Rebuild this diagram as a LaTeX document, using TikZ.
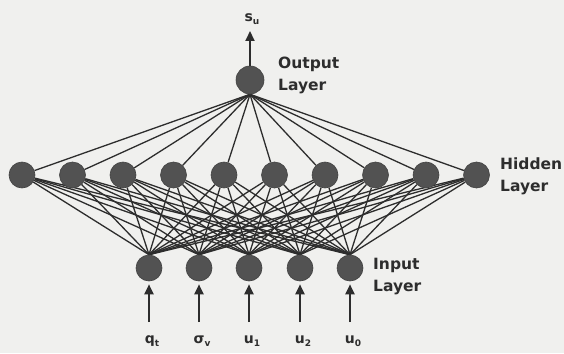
\documentclass[tikz,border=0pt]{standalone}
\usepackage{fontspec}
\setmainfont{DejaVu Sans}
\usetikzlibrary{arrows.meta}
\pgfdeclarelayer{bglayer}
\pgfdeclarelayer{edgelayer}
\pgfsetlayers{bglayer,edgelayer,main}
\definecolor{bgcol}{RGB}{240,240,238}
\definecolor{nodecol}{RGB}{82,82,82}
\definecolor{linecol}{RGB}{45,45,45}
\definecolor{txtcol}{RGB}{45,45,45}
\newcommand{\subl}[1]{{\fontsize{9}{9}\selectfont\raisebox{-3pt}{#1}}}
\begin{document}
\begin{tikzpicture}[x=1pt,y=-1pt,
  neuron/.style={circle,fill=nodecol,draw=nodecol!80!black,line width=0.6pt,minimum size=26pt,inner sep=0pt},
  outneuron/.style={neuron,minimum size=28pt},
  conn/.style={draw=linecol,line width=1.3pt},
  arr/.style={draw=linecol,line width=2pt,-{Triangle[length=10pt,width=9pt]}},
  lbl/.style={text=txtcol,font=\fontsize{15.5}{22}\selectfont\bfseries,align=left,anchor=west,inner sep=0pt},
  inlbl/.style={text=txtcol,font=\fontsize{14}{14}\selectfont\bfseries,inner sep=0pt}
]
\begin{pgfonlayer}{bglayer}
\fill[bgcol] (0,0) rectangle (564,353);
\end{pgfonlayer}
\useasboundingbox (0,0) rectangle (564,353);
% nodes
\node[outneuron] (O) at (250,80) {};
\foreach \k in {1,...,10} {
  \node[neuron] (H\k) at ({22+50.5*(\k-1)},175) {};
}
\foreach \k/\x in {1/149,2/199,3/249,4/300,5/350} {
  \node[neuron] (I\k) at (\x,268) {};
}
% connections (behind nodes)
\begin{pgfonlayer}{edgelayer}
\foreach \k in {1,...,10} {
  \draw[conn] (O.south) -- (H\k);
  \foreach \j in {1,...,5} {
    \draw[conn] (H\k) -- (I\j.north);
  }
}
\end{pgfonlayer}
% output arrow
\coordinate (top) at (250,31);
\draw[arr] (O.north) -- (top);
\node[inlbl] (su) at (252,19) {s\subl{u}};
% input arrows and labels
\foreach \k/\x in {1/149,2/199,3/249,4/300,5/350} {
  \coordinate (b\k) at (\x,322);
  \draw[arr,shorten >=3pt] (b\k) -- (I\k.south);
}
\node[inlbl] (l1) at (152,341) {q\subl{t}};
\node[inlbl] (l2) at (202,341) {σ\subl{v}};
\node[inlbl] (l3) at (252,341) {u\subl{1}};
\node[inlbl] (l4) at (303,341) {u\subl{2}};
\node[inlbl] (l5) at (353,341) {u\subl{0}};
% layer labels
\node[lbl] (outl) at (278,75) {Output\\Layer};
\node[lbl] (hidl) at (500,176.5) {Hidden\\Layer};
\node[lbl] (inl) at (373,276.5) {Input\\Layer};
\end{tikzpicture}
\end{document}
